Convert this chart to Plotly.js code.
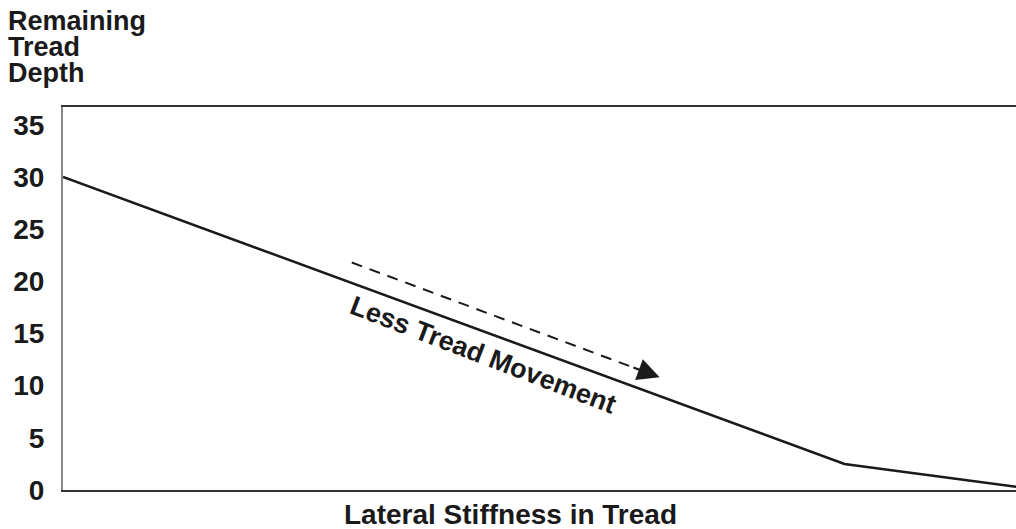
<!DOCTYPE html>
<html>
<head>
<meta charset="utf-8">
<script src="https://cdn.plot.ly/plotly-3.0.1.min.js"></script>
<style>
html,body{margin:0;padding:0;background:#fff;}
#chart{width:1016px;height:529px;}
</style>
</head>
<body>
<div id="chart"></div>
<script>
// Data
const stiffness = [0, 82, 100];          // lateral stiffness (relative, no ticks shown)
const treadDepth = [30, 2.5, 0.3];       // remaining tread depth
const yTicks = [0, 5, 10, 15, 20, 25, 30, 35];
const yTitleLines = ["Remaining", "Tread", "Depth"];
const xTitle = "Lateral Stiffness in Tread";
const arrowLabel = "Less Tread Movement";
const arrowStart = [30.3, 21.8];
const arrowEnd = [62.6, 10.8];

const FONT = "Liberation Sans, Arial, sans-serif";
const INK = "#1a1a1a";

const W = 1016, H = 529;
const L = 63, R = 0, T = 107, B = 39;
const plotH = H - T - B;
function py(pixY){ return (H - B - pixY) / plotH; }

const annotations = [];
const titleY = [21, 47, 73];
yTitleLines.forEach((t, i) => {
  annotations.push({
    text: "<b>" + t + "</b>", xref: "paper", yref: "paper",
    x: -56/953, y: py(titleY[i]), xanchor: "left", yanchor: "middle",
    borderpad: 0,
    showarrow: false, font: {family: FONT, size: 27, color: INK}
  });
});
annotations.push({
  text: "<b>" + xTitle + "</b>", xref: "paper", yref: "paper",
  x: (510 - L)/953, y: py(514), xanchor: "center", yanchor: "middle",
  showarrow: false, font: {family: FONT, size: 28, color: INK}
});
annotations.push({
  text: "<b>" + arrowLabel + "</b>", xref: "x", yref: "y",
  x: 44.1, y: 12.9, textangle: 21, showarrow: false,
  font: {family: FONT, size: 27, color: INK}
});
// arrow head
const dx = arrowEnd[0] - arrowStart[0], dy = arrowEnd[1] - arrowStart[1];
annotations.push({
  text: "", xref: "x", yref: "y", axref: "x", ayref: "y",
  x: arrowEnd[0], y: arrowEnd[1],
  ax: arrowEnd[0] - dx*0.09, ay: arrowEnd[1] - dy*0.09,
  showarrow: true, arrowhead: 2, arrowsize: 2.2, arrowwidth: 2, arrowcolor: INK
});

const shapes = [{
  type: "line", xref: "x", yref: "y",
  x0: arrowStart[0], y0: arrowStart[1],
  x1: arrowEnd[0] - dx*0.07, y1: arrowEnd[1] - dy*0.07,
  line: {color: INK, width: 2, dash: "11px,8px"}
}];

const trace = {
  x: stiffness, y: treadDepth, type: "scatter", mode: "lines",
  line: {color: INK, width: 2.5}, hoverinfo: "skip"
};

const layout = {
  width: W, height: H,
  margin: {l: L, r: R, t: T, b: B, pad: 0},
  paper_bgcolor: "#fff", plot_bgcolor: "#fff",
  showlegend: false,
  xaxis: {
    range: [0, 100], showgrid: false, zeroline: false, showticklabels: false,
    ticks: "", showline: true, mirror: true, linecolor: "#333", linewidth: 2
  },
  yaxis: {
    range: [0, 36.7], tickvals: yTicks, ticktext: yTicks.map(v => "<b>" + v + "</b>"),
    showgrid: false, zeroline: false, ticks: "", ticklabelstandoff: 11,
    tickfont: {family: FONT, size: 28, color: INK},
    showline: true, linecolor: "#888", linewidth: 2
  },
  annotations: annotations,
  shapes: shapes
};

Plotly.newPlot("chart", [trace], layout, {displayModeBar: false, staticPlot: true});
</script>
</body>
</html>
